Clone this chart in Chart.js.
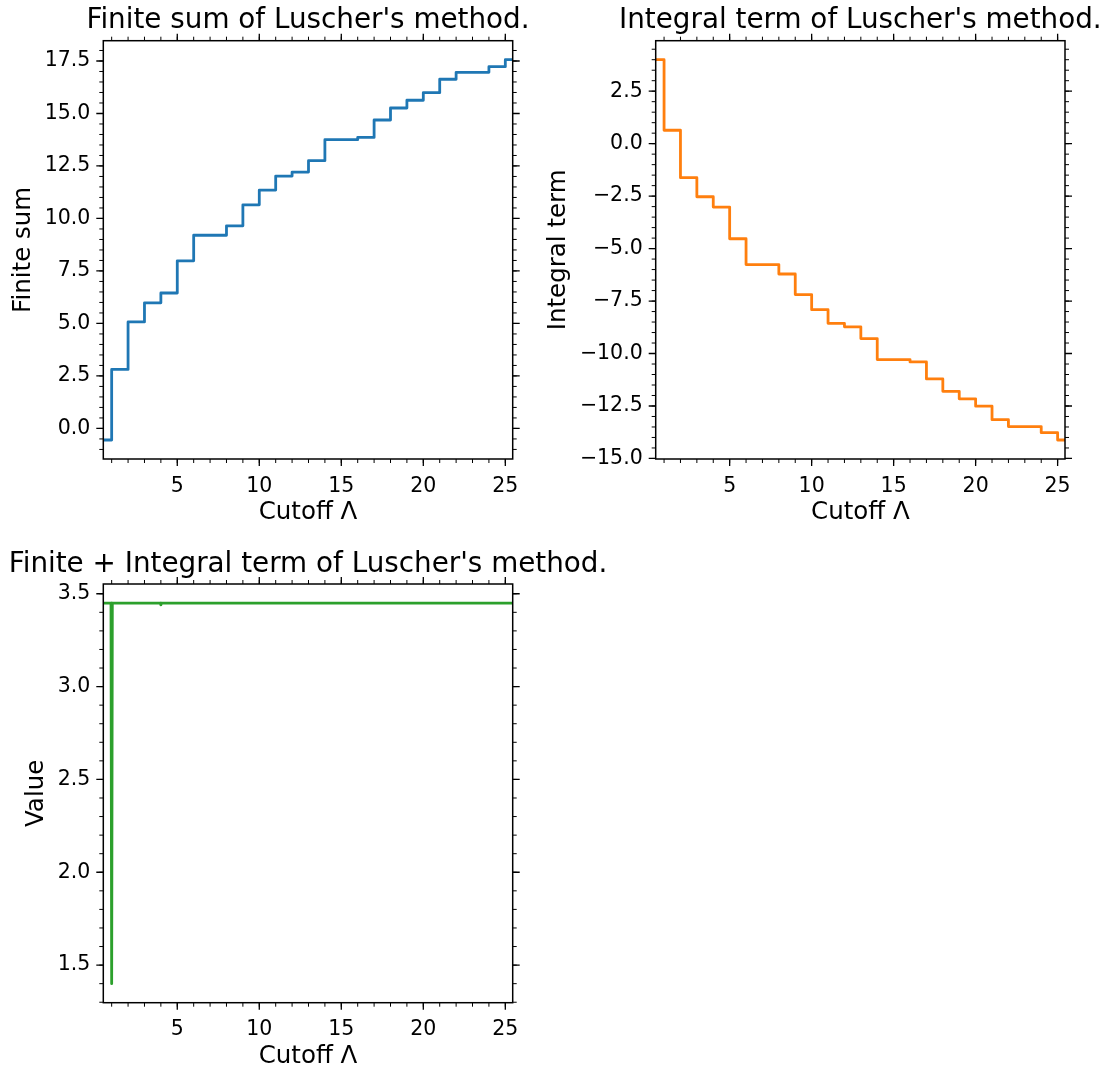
<!DOCTYPE html>
<html>
<head>
<meta charset="utf-8">
<script src="https://cdn.jsdelivr.net/npm/chart.js@4.4.1/dist/chart.umd.min.js"></script>
<style>
  html, body { margin: 0; padding: 0; background: #fff; }
  #wrap { position: relative; width: 1107px; height: 1070px; overflow: hidden; }
  canvas { position: absolute; left: 0; top: 0; }
</style>
</head>
<body>
<div id="wrap">
  <canvas id="finite" width="1107" height="1070"></canvas>
  <canvas id="integral" width="1107" height="1070"></canvas>
  <canvas id="total" width="1107" height="1070"></canvas>
</div>
<script>
// values (step levels start at each cutoff)
const cutoffSteps = [0.49, 1, 2, 3, 4, 5, 6, 8, 9, 10, 11, 12, 13, 14, 16, 17, 18, 19, 20, 21, 22, 24, 25, 25.45];
const finiteSum = [-0.55, 2.81, 5.07, 5.98, 6.45, 7.98, 9.20, 9.65, 10.65, 11.35, 12.02, 12.21, 12.75, 13.75, 13.86, 14.69, 15.26, 15.63, 15.99, 16.63, 16.96, 17.23, 17.56, 17.56];
const integralTerm = [4.00, 0.64, -1.62, -2.53, -3.02, -4.53, -5.76, -6.21, -7.19, -7.91, -8.56, -8.73, -9.29, -10.29, -10.40, -11.21, -11.80, -12.16, -12.51, -13.15, -13.48, -13.77, -14.12, -14.12];
const totalCutoff = [0.49, 0.96, 1.0, 1.04, 3.96, 4.0, 4.04, 25.45];
const totalValue = [3.45, 3.45, 1.40, 3.45, 3.45, 3.44, 3.45, 3.45];

const xTicks = [5, 10, 15, 20, 25];
const xTickLabels = ['5', '10', '15', '20', '25'];
const finiteTicks = [0, 2.5, 5, 7.5, 10, 12.5, 15, 17.5];
const finiteTickLabels = ['0.0', '2.5', '5.0', '7.5', '10.0', '12.5', '15.0', '17.5'];
const integralTicks = [-15, -12.5, -10, -7.5, -5, -2.5, 0, 2.5];
const integralTickLabels = ['\u221215.0', '\u221212.5', '\u221210.0', '\u22127.5', '\u22125.0', '\u22122.5', '0.0', '2.5'];
const totalTicks = [1.5, 2.0, 2.5, 3.0, 3.5];
const totalTickLabels = ['1.5', '2.0', '2.5', '3.0', '3.5'];

const FONT = '"DejaVu Sans", sans-serif';

// frame, ticks on all four sides (major + minor) and the axes title
const frame = {
  id: 'frame',
  afterDraw(chart, args, opts) {
    const { ctx, chartArea: a, scales } = chart;
    const sx = scales.x, sy = scales.y;
    ctx.save();
    ctx.strokeStyle = '#000';
    const mark = (vals, len, width, horiz) => {
      ctx.lineWidth = width;
      ctx.beginPath();
      vals.forEach(v => {
        if (horiz) {
          const p = sx.getPixelForValue(v);
          if (p < a.left - 0.5 || p > a.right + 0.5) return;
          ctx.moveTo(p, a.bottom); ctx.lineTo(p, a.bottom + len);
          ctx.moveTo(p, a.top); ctx.lineTo(p, a.top - len);
        } else {
          const p = sy.getPixelForValue(v);
          if (p < a.top - 0.5 || p > a.bottom + 0.5) return;
          ctx.moveTo(a.left, p); ctx.lineTo(a.left - len, p);
          ctx.moveTo(a.right, p); ctx.lineTo(a.right + len, p);
        }
      });
      ctx.stroke();
    };
    const minor = (scale, step) => {
      const out = [];
      for (let k = Math.ceil(scale.min / step); k * step <= scale.max; k++) out.push(k * step);
      return out;
    };
    mark(minor(sx, opts.minorX), 4, 1, true);
    mark(minor(sy, opts.minorY), 4, 1, false);
    mark(opts.xMajor, 7, 1.3, true);
    mark(opts.yMajor, 7, 1.3, false);
    ctx.lineWidth = 1.5;
    ctx.strokeRect(a.left, a.top, a.right - a.left, a.bottom - a.top);

    ctx.fillStyle = '#000';
    ctx.font = '27.8px ' + FONT;
    ctx.textAlign = 'center';
    ctx.textBaseline = 'alphabetic';
    ctx.fillText(opts.title, (a.left + a.right) / 2, a.top - 12.5);
    ctx.restore();
  }
};

function makeChart(id, o) {
  new Chart(document.getElementById(id), {
    type: 'line',
    data: {
      datasets: [{
        data: o.xs.map((v, i) => ({ x: v, y: o.ys[i] })),
        borderColor: o.color,
        borderWidth: 2.8,
        borderJoinStyle: 'round',
        pointRadius: 0,
        tension: 0,
        fill: false,
        stepped: o.stepped
      }]
    },
    plugins: [frame],
    options: {
      responsive: false,
      animation: false,
      devicePixelRatio: 1,
      layout: { padding: o.pad },
      plugins: {
        legend: { display: false },
        tooltip: { enabled: false },
        frame: { title: o.title, xMajor: xTicks, yMajor: o.yTicks, minorX: 1, minorY: o.minorY }
      },
      scales: {
        x: {
          type: 'linear',
          min: 0.49,
          max: 25.45,
          afterBuildTicks: s => { s.ticks = xTicks.map(v => ({ value: v })); },
          afterFit: s => { s.height = 67; },
          grid: { display: false, drawTicks: false },
          border: { display: false },
          ticks: {
            autoSkip: false, maxRotation: 0, padding: 15, color: '#000',
            font: { family: FONT, size: 20.5 },
            callback: v => xTickLabels[xTicks.indexOf(v)]
          },
          title: {
            display: true, text: 'Cutoff \u039b', color: '#000',
            font: { family: FONT, size: 24.5 },
            padding: { top: 0, bottom: -1.7 }
          }
        },
        y: {
          type: 'linear',
          min: o.yMin,
          max: o.yMax,
          afterBuildTicks: s => { s.ticks = o.yTicks.map(v => ({ value: v })); },
          afterFit: s => { s.width = o.yWidth; },
          grid: { display: false, drawTicks: false },
          border: { display: false },
          ticks: {
            autoSkip: false, padding: 13, color: '#000',
            font: { family: FONT, size: 20.5 },
            callback: v => o.yLabels[o.yTicks.indexOf(v)]
          },
          title: {
            display: true, text: o.yTitle, color: '#000',
            font: { family: FONT, size: 24.5 },
            padding: { top: 8.5, bottom: 0 }
          }
        }
      }
    }
  });
}

makeChart('finite', {
  xs: cutoffSteps, ys: finiteSum, color: '#1f77b4', stepped: 'before',
  title: "Finite sum of Luscher's method.", yTitle: 'Finite sum',
  yMin: -1.456, yMax: 18.466, yTicks: finiteTicks, yLabels: finiteTickLabels, minorY: 0.5,
  yWidth: 103.3, pad: { left: 0, top: 40.7, right: 594.3, bottom: 544 }
});

makeChart('integral', {
  xs: cutoffSteps, ys: integralTerm, color: '#ff7f0e', stepped: 'before',
  title: "Integral term of Luscher's method.", yTitle: 'Integral term',
  yMin: -15.026, yMax: 4.906, yTicks: integralTicks, yLabels: integralTickLabels, minorY: 0.5,
  yWidth: 120.4, pad: { left: 535.3, top: 40.7, right: 42, bottom: 544 }
});

makeChart('total', {
  xs: totalCutoff, ys: totalValue, color: '#2ca02c', stepped: false,
  title: "Finite + Integral term of Luscher's method.", yTitle: 'Value',
  yMin: 1.2975, yMax: 3.5525, yTicks: totalTicks, yLabels: totalTickLabels, minorY: 0.1,
  yWidth: 90, pad: { left: 13.3, top: 584, right: 594.3, bottom: 0.3 }
});
</script>
</body>
</html>
